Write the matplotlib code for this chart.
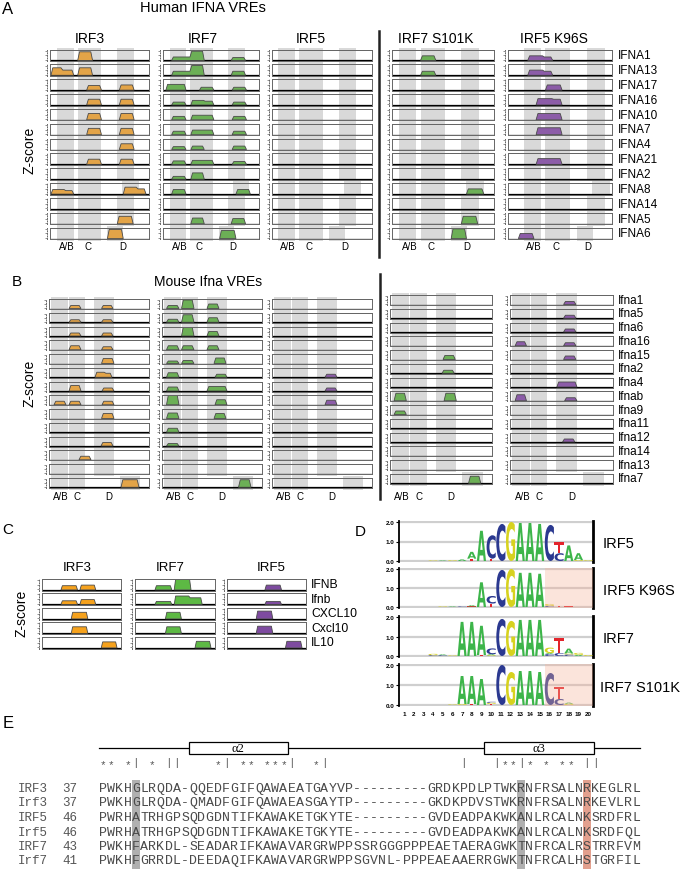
import numpy as np
import matplotlib
matplotlib.use('Agg')
import matplotlib.pyplot as plt
from matplotlib.patches import Polygon, Rectangle, PathPatch
from matplotlib.textpath import TextPath
from matplotlib.font_manager import FontProperties
from matplotlib.transforms import Affine2D

plt.rcParams['font.family'] = ['Liberation Sans', 'DejaVu Sans']

# ---------------- data ----------------
# z-score peaks: (start, end, height), x as fraction of the VRE window
human_genes = ['IFNA1', 'IFNA13', 'IFNA17', 'IFNA16', 'IFNA10', 'IFNA7', 'IFNA4',
               'IFNA21', 'IFNA2', 'IFNA8', 'IFNA14', 'IFNA5', 'IFNA6']
human_irf3 = [
    [(0.28, 0.43, 0.80)],
    [(0.01, 0.12, 0.70), (0.12, 0.24, 0.50), (0.28, 0.43, 0.70)],
    [(0.37, 0.52, 0.45), (0.70, 0.85, 0.50)],
    [(0.37, 0.52, 0.55), (0.70, 0.85, 0.55)],
    [(0.37, 0.52, 0.60), (0.70, 0.85, 0.60)],
    [(0.37, 0.52, 0.60), (0.70, 0.85, 0.60)],
    [(0.70, 0.85, 0.55)],
    [(0.37, 0.52, 0.50), (0.70, 0.85, 0.50)],
    [],
    [(0.01, 0.15, 0.45), (0.15, 0.24, 0.35), (0.74, 0.88, 0.65), (0.88, 0.97, 0.50)],
    [],
    [(0.68, 0.84, 0.70)],
    [(0.58, 0.74, 0.85)],
]
human_irf7 = [
    [(0.09, 0.29, 0.35), (0.29, 0.43, 0.85), (0.71, 0.86, 0.30)],
    [(0.09, 0.29, 0.40), (0.29, 0.43, 0.90), (0.71, 0.86, 0.40)],
    [(0.03, 0.24, 0.55), (0.38, 0.53, 0.30), (0.72, 0.87, 0.30)],
    [(0.09, 0.24, 0.30), (0.29, 0.43, 0.45), (0.43, 0.53, 0.38), (0.72, 0.87, 0.30)],
    [(0.09, 0.24, 0.35), (0.29, 0.53, 0.45), (0.72, 0.87, 0.35)],
    [(0.09, 0.24, 0.35), (0.29, 0.53, 0.45), (0.72, 0.87, 0.35)],
    [(0.09, 0.24, 0.30), (0.29, 0.43, 0.35), (0.72, 0.87, 0.35)],
    [(0.09, 0.24, 0.35), (0.29, 0.53, 0.40), (0.72, 0.87, 0.30)],
    [(0.09, 0.24, 0.30), (0.29, 0.43, 0.60)],
    [(0.09, 0.24, 0.45), (0.76, 0.91, 0.45)],
    [],
    [(0.29, 0.43, 0.55), (0.71, 0.86, 0.50)],
    [(0.59, 0.76, 0.75)],
]
human_irf5 = [[] for _ in human_genes]
human_s101k = [
    [(0.28, 0.43, 0.45)], [(0.28, 0.43, 0.40)], [], [], [], [], [], [], [],
    [(0.73, 0.90, 0.50)], [], [(0.68, 0.84, 0.70)], [(0.58, 0.73, 0.90)],
]
human_k96s = [
    [(0.19, 0.34, 0.45), (0.34, 0.43, 0.35)],
    [(0.19, 0.34, 0.50), (0.34, 0.43, 0.40)],
    [(0.36, 0.52, 0.50)],
    [(0.27, 0.43, 0.60), (0.43, 0.52, 0.55)],
    [(0.27, 0.52, 0.60)],
    [(0.27, 0.52, 0.65)],
    [],
    [(0.27, 0.52, 0.55)],
    [], [], [], [],
    [(0.10, 0.25, 0.50)],
]
human_ab = (0.07, 0.24)
human_c = (0.28, 0.52)
human_d = [(0.68, 0.85)] * 9 + [(0.73, 0.90), (0.68, 0.85), (0.68, 0.85), (0.58, 0.74)]

mouse_genes = ['Ifna1', 'Ifna5', 'Ifna6', 'Ifna16', 'Ifna15', 'Ifna2', 'Ifna4',
               'Ifnab', 'Ifna9', 'Ifna11', 'Ifna12', 'Ifna14', 'Ifna13', 'Ifna7']
mouse_irf3 = [
    [(0.20, 0.32, 0.35), (0.525, 0.64, 0.35)],
    [(0.20, 0.32, 0.30), (0.525, 0.64, 0.30)],
    [(0.20, 0.32, 0.35), (0.525, 0.64, 0.35)],
    [(0.20, 0.32, 0.45), (0.525, 0.64, 0.35)],
    [(0.525, 0.65, 0.55)],
    [(0.46, 0.56, 0.55), (0.56, 0.63, 0.45)],
    [(0.20, 0.32, 0.60), (0.53, 0.65, 0.35)],
    [(0.05, 0.17, 0.40), (0.20, 0.32, 0.40), (0.53, 0.65, 0.40)],
    [(0.525, 0.65, 0.55)],
    [],
    [(0.52, 0.64, 0.40)],
    [(0.30, 0.42, 0.40)],
    [],
    [(0.72, 0.90, 0.80)],
]
mouse_irf7 = [
    [(0.045, 0.17, 0.35), (0.195, 0.32, 0.90), (0.45, 0.57, 0.50)],
    [(0.045, 0.17, 0.35), (0.195, 0.32, 0.80), (0.45, 0.57, 0.50)],
    [(0.195, 0.32, 0.95), (0.45, 0.57, 0.50)],
    [(0.045, 0.17, 0.45), (0.195, 0.32, 0.45), (0.45, 0.57, 0.45)],
    [(0.045, 0.17, 0.30), (0.195, 0.32, 0.35), (0.52, 0.64, 0.60)],
    [(0.045, 0.17, 0.50), (0.53, 0.65, 0.35)],
    [(0.045, 0.17, 0.45), (0.45, 0.65, 0.50)],
    [(0.045, 0.17, 1.00), (0.53, 0.65, 0.55)],
    [(0.045, 0.17, 0.60), (0.52, 0.64, 0.55)],
    [(0.045, 0.17, 0.45)],
    [(0.045, 0.17, 0.30)],
    [], [],
    [(0.765, 0.89, 0.80)],
]
mouse_irf5 = [[], [], [], [], [], [(0.53, 0.65, 0.35)], [(0.53, 0.65, 0.35)],
              [(0.53, 0.65, 0.50)], [], [], [], [], [], []]
mouse_s101k = [[], [], [], [], [(0.52, 0.64, 0.45)], [(0.51, 0.63, 0.35)], [],
               [(0.04, 0.16, 0.80), (0.53, 0.65, 0.80)], [(0.04, 0.16, 0.40)],
               [], [], [], [], [(0.77, 0.89, 0.75)]]
mouse_k96s = [
    [(0.52, 0.64, 0.35)], [(0.52, 0.64, 0.35)], [(0.52, 0.64, 0.35)],
    [(0.05, 0.16, 0.45), (0.52, 0.64, 0.35)],
    [(0.52, 0.64, 0.40)], [], [(0.455, 0.65, 0.55)],
    [(0.05, 0.16, 0.65), (0.53, 0.65, 0.35)],
    [], [], [(0.51, 0.63, 0.35)], [], [], [],
]
mouse_ab = (0.02, 0.19)
mouse_c = (0.20, 0.36)
mouse_d = [(0.45, 0.65)] * 13 + [(0.71, 0.91)]

c_genes = ['IFNB', 'Ifnb', 'CXCL10', 'Cxcl10', 'IL10']
c_irf3 = [
    [(0.24, 0.45, 0.40), (0.48, 0.68, 0.45)],
    [(0.24, 0.45, 0.35), (0.48, 0.68, 0.45)],
    [(0.37, 0.58, 0.60)], [(0.37, 0.58, 0.60)], [(0.75, 0.95, 0.55)],
]
c_irf7 = [
    [(0.25, 0.46, 0.40), (0.49, 0.70, 0.95)],
    [(0.25, 0.46, 0.30), (0.49, 0.68, 0.75), (0.68, 0.84, 0.60)],
    [(0.38, 0.58, 0.60)], [(0.38, 0.58, 0.60)], [(0.75, 0.95, 0.60)],
]
c_irf5 = [
    [(0.48, 0.69, 0.45)], [(0.48, 0.69, 0.30)],
    [(0.37, 0.58, 0.70)], [(0.37, 0.58, 0.65)], [(0.74, 0.95, 0.60)],
]

# sequence logos: (position, base, bits), stacked bottom-up
logo_names = ['IRF5', 'IRF5 K96S', 'IRF7', 'IRF7 S101K']
logo_irf5 = [(4, 'G', .03), (5, 'A', .03), (6, 'G', .04), (7, 'A', .08),
             (8, 'T', .12), (8, 'A', .35), (9, 'A', 1.55), (10, 'T', .12), (10, 'C', 1.2),
             (11, 'C', 1.9), (12, 'G', 2.0), (13, 'A', 1.95), (14, 'A', 1.95), (15, 'A', 1.9),
             (16, 'C', 1.85), (17, 'C', .4), (17, 'T', .55), (18, 'A', .8),
             (19, 'G', .05), (19, 'A', .35), (20, 'G', .04)]
logo_k96s = [(5, 'G', .03), (6, 'A', .03), (7, 'C', .03), (8, 'T', .03), (8, 'A', .06),
             (9, 'A', 1.3), (10, 'T', .18), (10, 'C', .4), (11, 'C', 1.95), (12, 'G', 2.0),
             (13, 'A', 1.8), (14, 'A', 1.8), (15, 'A', 1.75), (16, 'C', .06), (16, 'G', .1),
             (17, 'T', .04), (18, 'T', .03)]
logo_irf7 = [(4, 'C', .04), (4, 'G', .07), (5, 'C', .04), (5, 'A', .04), (6, 'G', .03),
             (7, 'A', 1.75), (8, 'A', 1.75), (9, 'T', .05), (9, 'A', 1.5),
             (10, 'G', .04), (10, 'A', .05), (10, 'C', .3), (11, 'C', 1.9), (12, 'G', 1.8),
             (13, 'A', 1.85), (14, 'A', 1.85), (15, 'A', 1.85),
             (16, 'C', .1), (16, 'A', .05), (16, 'G', .28), (17, 'C', .15), (17, 'T', .75),
             (18, 'C', .08), (18, 'G', .05), (18, 'A', .25), (19, 'A', .06), (19, 'G', .1),
             (20, 'G', .05)]
logo_s101k = [(6, 'G', .03), (7, 'G', .05), (7, 'A', 1.4), (8, 'T', .05), (8, 'A', 1.4),
              (9, 'A', 1.3), (10, 'T', .05), (10, 'G', .06), (10, 'C', .05),
              (11, 'C', 2.0), (12, 'G', 1.65), (13, 'A', 1.7), (14, 'A', 1.7), (15, 'A', 1.65),
              (16, 'C', 1.6), (17, 'C', .3), (17, 'T', .6), (18, 'G', .06), (18, 'A', .06)]
logo_shaded = [False, True, False, True]

# alignment
seq_names = ['IRF3', 'Irf3', 'IRF5', 'Irf5', 'IRF7', 'Irf7']
seq_starts = ['37', '37', '46', '46', '43', '41']
seqs = [
    'PWKHGLRQDA-QQEDFGIFQAWAEATGAYVP---------GRDKPDLPTWKRNFRSALNRKEGLRL',
    'PWKHGLRQDA-QMADFGIFQAWAEASGAYTP---------GKDKPDVSTWKRNFRSALNRKEVLRL',
    'PWRHATRHGPSQDGDNTIFKAWAKETGKYTE---------GVDEADPAKWKANLRCALNKSRDFRL',
    'PWRHATRHGPSQDGDNTIFKAWAKETGKYTE---------GVDEADPAKWKANLRCALNKSRDFQL',
    'PWKHFARKDL-SEADARIFKAWAVARGRWPPSSRGGGPPPEAETAERAGWKTNFRCALRSTRRFVM',
    'PWKHFGRRDL-DEEDAQIFKAWAVARGRWPPSGVNL-PPPEAEAAERRGWKTNFRCALHSTGRFIL',
]
star_cols = [0, 1, 3, 6, 14, 17, 18, 20, 21, 22, 26, 49, 50, 52, 54, 56, 57]
bar_cols = [4, 8, 9, 15, 23, 27, 44, 48, 51, 59, 60]
gray_cols = [4, 51]
red_cols = [59]
helices = [('α2', 11, 23), ('α3', 47, 60.4)]

# ---------------- layout ----------------
W, H = 680, 870
fig = plt.figure(figsize=(W / 100, H / 100), dpi=100)


def px_axes(x, y, w, h):
    return fig.add_axes((x / W, 1 - (y + h) / H, w / W, h / H))


def px_text(x, y, s, **kw):
    kw.setdefault('ha', 'center')
    kw.setdefault('va', 'center')
    fig.text(x / W, 1 - y / H, s, **kw)


def draw_peaks(ax, peaks, color, base, d=0.018):
    groups = []
    for s, e, h in peaks:
        if groups and abs(groups[-1][-1][1] - s) < 1e-6:
            groups[-1].append((s, e, h))
        else:
            groups.append([(s, e, h)])
    for g in groups:
        pts = [(g[0][0], base), (g[0][0] + d, g[0][2])]
        for k, (s, e, h) in enumerate(g):
            if k == len(g) - 1:
                pts += [(e - d, h), (e, base)]
            else:
                pts += [(e - d / 2, h), (e + d / 2, g[k + 1][2])]
        ax.add_patch(Polygon(pts, closed=True, fc=color, ec='#4a4a4a', lw=0.6, zorder=3))


def vre_panel(x0, x1, top0, pitch, h, rows, color, bands, shift=0.0):
    gap = (pitch - h) / 2 / h
    for i, peaks in enumerate(rows):
        ax = px_axes(x0, top0 + i * pitch, x1 - x0, h)
        ax.set_facecolor('none')
        if bands is not None:
            for b0, b1 in bands[i]:
                ax.axvspan(b0 + shift, b1 + shift, ymin=-gap, ymax=1 + gap,
                           color='#d9d9d9', lw=0, zorder=0, clip_on=False)
        ax.plot([0, 1], [0.05, 0.05], color='black', lw=0.9, zorder=2)
        draw_peaks(ax, peaks, color, 0.05)
        ax.set_xlim(0, 1)
        ax.set_ylim(0, 1)
        ax.set_xticks([])
        ax.set_yticks([0.1, 0.5, 0.9])
        ax.tick_params(axis='y', length=1.5, width=0.5, labelleft=False, colors='#666')
        for sp in ax.spines.values():
            sp.set_linewidth(0.7)
            sp.set_color('#666666')
        ax.spines['left'].set_position(('outward', 2))
        ax.spines['left'].set_linestyle(':')
        ax.add_patch(Rectangle((0, 0), 1, 1, transform=ax.transAxes, fill=False,
                               ec='#666666', lw=0.7, zorder=4))


def group_labels(x0, x1, y, fracs):
    for lab, f in zip(['A/B', 'C', 'D'], fracs):
        px_text(x0 + f * (x1 - x0), y, lab, fontsize=7)


orange_a, green_a, purple_a = '#E3A448', '#6CAF56', '#8C5CA8'

# ---- panel A ----
px_text(8, 10, 'A', fontsize=12)
px_text(203, 8, 'Human IFNA VREs', fontsize=10.5)
cols_a = [(50, 149, human_irf3, orange_a, 0.0), (163, 259, human_irf7, green_a, 0.0),
          (272, 372, human_irf5, purple_a, -0.015), (392, 494, human_s101k, green_a, 0.0),
          (508, 612, human_k96s, purple_a, 0.08)]
titles_a = [('IRF3', 90), ('IRF7', 203), ('IRF5', 311), ('IRF7 S101K', 436), ('IRF5 K96S', 554)]
bands_h = [[human_ab, human_c, human_d[i]] for i in range(len(human_genes))]
for (x0, x1, rows, col, sh), (tt, tx) in zip(cols_a, titles_a):
    vre_panel(x0, x1, 50.5, 14.85, 11.5, rows, col, bands_h, sh)
    px_text(tx, 39, tt, fontsize=10)
    group_labels(x0, x1, 247, [0.17 + sh, 0.38 + sh, 0.73 + sh * 0.5])
for i, g in enumerate(human_genes):
    px_text(618, 56.2 + i * 14.85, g, fontsize=8.5, ha='left')
px_text(29, 150, 'Z-score', fontsize=10, rotation=90)
fig.add_artist(plt.Line2D([379 / W, 379 / W], [1 - 32 / H, 1 - 258 / H], color='#222', lw=1.8))

# ---- panel B ----
px_text(17, 282, 'B', fontsize=11)
px_text(208, 282, 'Mouse Ifna VREs', fontsize=10)
cols_b = [(49, 149, mouse_irf3, orange_a, 300), (162, 262, mouse_irf7, green_a, 300),
          (272, 372, mouse_irf5, purple_a, 300), (390, 492, mouse_s101k, green_a, 296),
          (510, 613, mouse_k96s, purple_a, 296)]
bands_m = [[mouse_ab, mouse_c, mouse_d[i]] for i in range(len(mouse_genes))]
for x0, x1, rows, col, top in cols_b:
    vre_panel(x0, x1, top, 13.75, 10, rows, col, bands_m)
    group_labels(x0, x1, 497, [0.12, 0.28, 0.60])
for i, g in enumerate(mouse_genes):
    px_text(618, 300.7 + i * 13.75, g, fontsize=8.5, ha='left')
px_text(29, 383, 'Z-score', fontsize=10, rotation=90)
fig.add_artist(plt.Line2D([380 / W, 380 / W], [1 - 275 / H, 1 - 500 / H], color='#222', lw=1.8))

# ---- panel C ----
px_text(8, 530, 'C', fontsize=11)
cols_c = [(42, 121, c_irf3, '#F6A21D', 'IRF3', 77), (135, 215, c_irf7, '#5DB944', 'IRF7', 170),
          (227, 306, c_irf5, '#7E4BA0', 'IRF5', 271)]
for x0, x1, rows, col, tt, tx in cols_c:
    vre_panel(x0, x1, 579.5, 14.5, 12, rows, col, None)
    px_text(tx, 568, tt, fontsize=9.5)
for i, g in enumerate(c_genes):
    px_text(311, 585.5 + i * 14.5, g, fontsize=8.7, ha='left')
px_text(22, 613, 'Z-score', fontsize=10, rotation=90)

# ---- panel D ----
px_text(360, 532, 'D', fontsize=11)
logo_font = FontProperties(family='DejaVu Sans', weight='bold')
base_colors = {'A': '#3DB54A', 'C': '#2B3990', 'G': '#D7D21F', 'T': '#E3242B'}


def draw_base(ax, base, x, y, h, w=0.94):
    tp = TextPath((0, 0), base, size=1, prop=logo_font)
    bb = tp.get_extents()
    tr = (Affine2D().translate(-bb.x0, -bb.y0)
          .scale(w / bb.width, h / bb.height).translate(x - w / 2, y))
    ax.add_patch(PathPatch(tr.transform_path(tp), fc=base_colors[base], lw=0, zorder=3))


logo_rows = [(523, 562), (570, 608), (618, 657), (666, 706)]
logos = [logo_irf5, logo_k96s, logo_irf7, logo_s101k]
label_x = [603, 603, 603, 600]
for k, ((y2, y0), logo) in enumerate(zip(logo_rows, logos)):
    upp = (y0 - y2) / 2
    ax = px_axes(399, y2 - 0.05 * upp, 194, (y0 - y2) + 0.08 * upp)
    ax.set_xlim(0.5, 20.5)
    ax.set_ylim(-0.03, 2.05)
    for yy in (0, 1, 2):
        ax.axhline(yy, color='#cfcfcf', lw=1.6, zorder=0)
    stack = {}
    for pos, b, hgt in logo:
        y = stack.get(pos, 0.0)
        draw_base(ax, b, pos, y, hgt)
        stack[pos] = y + hgt
    if logo_shaded[k]:
        ax.axvspan(15.5, 20.5, color='#F5B29A', alpha=0.35, lw=0, zorder=5)
    ax.set_yticks([0, 1, 2])
    ax.set_yticklabels(['0.0', '1.0', '2.0'], fontsize=4.5, fontweight='bold')
    ax.tick_params(axis='y', length=2.5, width=0.8, pad=1)
    if k == 3:
        ax.set_xticks(range(1, 21))
        ax.set_xticklabels([str(i) for i in range(1, 21)], fontsize=4.5, fontweight='bold')
        ax.tick_params(axis='x', length=0, pad=4)
    else:
        ax.set_xticks([])
    ax.spines['top'].set_visible(False)
    ax.spines['bottom'].set_visible(False)
    ax.spines['left'].set_linewidth(1.3)
    ax.spines['right'].set_linewidth(2.0)
    px_text(label_x[k], (y2 + y0) / 2 + 2, logo_names[k], fontsize=10.5, ha='left')

# ---- panel E ----
px_text(8, 724, 'E', fontsize=12)
cw, sx, ytop = 8.2, 99, 735
axE = px_axes(0, ytop, W, H - ytop)
axE.set_xlim(-sx / cw, (W - sx) / cw)
axE.set_ylim(H, ytop)
axE.axis('off')
axE.plot([0, len(seqs[0])], [749, 749], color='black', lw=0.9)
for name, a, b in helices:
    axE.add_patch(Rectangle((a, 743), b - a, 12, fc='white', ec='black', lw=0.9, zorder=3))
    axE.text((a + b) / 2, 749, name, ha='center', va='center', fontsize=9,
             family='Liberation Serif', zorder=4)
for c in gray_cols:
    axE.add_patch(Rectangle((c, 781), 1, 89, fc='#b0b0b0', lw=0, zorder=0))
for c in red_cols:
    axE.add_patch(Rectangle((c, 781), 1, 89, fc='#e3a08e', lw=0, zorder=0))
for c in star_cols:
    axE.text(c + 0.5, 765, '*', ha='center', va='center', fontsize=8, color='#555',
             family='Liberation Mono')
for c in bar_cols:
    axE.text(c + 0.5, 763, '|', ha='center', va='center', fontsize=8, color='#555',
             family='Liberation Mono')
row_y = [789, 803, 818, 833, 847, 861]
for name, st, seq, y in zip(seq_names, seq_starts, seqs, row_y):
    axE.text(-81 / cw, y, name, ha='left', va='center', fontsize=9, color='#555',
             family='Liberation Mono')
    axE.text(-22 / cw, y, st, ha='right', va='center', fontsize=9, color='#555',
             family='Liberation Mono')
    for i, ch in enumerate(seq):
        axE.text(i + 0.5, y, ch, ha='center', va='center', fontsize=9.5, color='#4a4a4a',
                 family='Liberation Mono')

plt.savefig('out.png', dpi=100)
